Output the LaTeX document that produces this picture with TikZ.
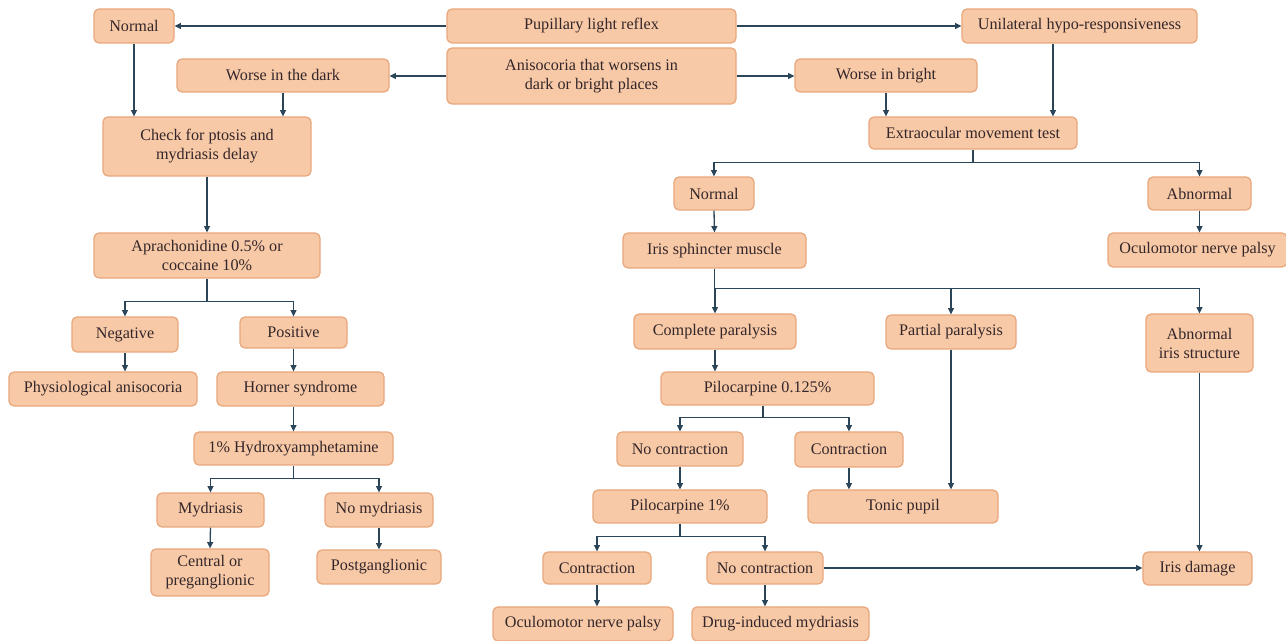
\documentclass[tikz,border=0pt]{standalone}
\usepackage{fontspec}
\setmainfont{Liberation Serif}
\usetikzlibrary{arrows.meta,calc}

\definecolor{boxfill}{HTML}{F8C9A6}
\definecolor{boxedge}{HTML}{E8A77C}
\definecolor{linkcol}{HTML}{2C4659}
\definecolor{textcol}{HTML}{33262A}

\begin{document}
\begin{tikzpicture}[x=0.02cm, y=-0.02cm,
	box/.style={draw=boxedge, fill=boxfill, line width=0.7pt, rounded corners=2.8pt,
		inner sep=0pt, align=center, text=textcol,
		font=\rmfamily\fontsize{9.2}{10.8}\selectfont},
	arr/.style={draw=linkcol, line width=0.75pt, -{Triangle[length=3.6pt,width=3.4pt]}},
	link/.style={draw=linkcol, line width=0.75pt}]
\useasboundingbox (0,0) rectangle (1286,641);

\foreach \nm/\cx/\cy/\w/\h/\txt in {
	nA/134/26/80/34/Normal,
	plr/591.5/26/289/34/Pupillary light reflex,
	uni/1079.5/26/235/34/Unilateral hypo-responsiveness,
	aniso/591.5/76/289/56/Anisocoria that worsens in\\dark or bright places,
	dark/283/75.5/212/33/Worse in the dark,
	bright/886/75.5/182/33/Worse in bright,
	ptosis/207/146.5/208/59/Check for ptosis and\\mydriasis delay,
	eom/973/133/208/32/Extraocular movement test,
	nB/714/193.5/80/33/Normal,
	abn/1199.5/193.5/103/33/Abnormal,
	onpA/1197.5/250/179/34/Oculomotor nerve palsy,
	iris/714.5/250.5/183/35/Iris sphincter muscle,
	apra/207/255.5/226/45/Aprachonidine 0.5\% or\\coccaine 10\%,
	comp/715/331.5/162/35/Complete paralysis,
	part/951/332/130/34/Partial paralysis,
	abis/1199.5/343/107/58/Abnormal\\iris structure,
	neg/125/334.5/106/35/Negative,
	pos/293.5/332.5/107/31/Positive,
	phys/103/389/188/34/Physiological anisocoria,
	horn/300.5/389/167/34/Horner syndrome,
	pilA/767.5/388.5/213/33/Pilocarpine 0.125\%,
	hydr/293.5/448.5/199/33/1\% Hydroxyamphetamine,
	ncA/680/449/126/34/No contraction,
	conA/849/449.5/108/35/Contraction,
	pilB/680/506.5/174/33/Pilocarpine 1\%,
	tonic/903/506.5/190/33/Tonic pupil,
	myd/210.5/510/107/34/Mydriasis,
	nomyd/379/510/108/34/No mydriasis,
	cent/210/572.5/118/47/Central or\\preganglionic,
	post/379/567/124/34/Postganglionic,
	conB/597/568/108/32/Contraction,
	ncB/765/568/116/32/No contraction,
	irisd/1197.5/568.5/109/33/Iris damage,
	onpB/583/624/180/34/Oculomotor nerve palsy,
	drug/780.5/624/177/34/Drug-induced mydriasis}
{
	\node[box, minimum width=\w*0.02cm, minimum height=\h*0.02cm] (\nm) at (\cx,\cy) {\txt};
}

\draw[arr] (plr.west) -- (nA.east);
\draw[arr] (plr.east) -- (uni.west);
\draw[arr] (aniso.west) -- (aniso.west -| dark.east);
\draw[arr] (aniso.east) -- (aniso.east -| bright.west);

\coordinate (unis) at ($(uni.south)+(-26.5,0)$);
\draw[arr] (nA.south) -- (nA.south |- ptosis.north);
\draw[arr] (dark.south) -- (dark.south |- ptosis.north);
\draw[arr] (bright.south) -- (bright.south |- eom.north);
\draw[arr] (unis) -- (unis |- eom.north);

\draw[arr] (ptosis.south) -- (apra.north);
\draw[link] (apra.south) -- ++(0,23) coordinate (aprab);
\foreach \dst in {neg, pos}
{
	\draw[arr] (aprab) -| (\dst.north);
}
\draw[arr] (neg.south) -- (neg.south |- phys.north);
\draw[arr] (pos.south) -- (pos.south |- horn.north);
\draw[arr] (hydr.north |- horn.south) -- (hydr.north);
\draw[link] (hydr.south) -- ++(0,13) coordinate (hydrb);
\foreach \dst in {myd, nomyd}
{
	\draw[arr] (hydrb) -| (\dst.north);
}
\draw[arr] (myd.south) -- (cent.north);
\draw[arr] (nomyd.south) -- (post.north);

\draw[link] (eom.south) -- ++(0,13) coordinate (eomb);
\foreach \dst in {nB, abn}
{
	\draw[arr] (eomb) -| (\dst.north);
}
\draw[arr] (nB.south) -- (iris.north);
\draw[arr] (abn.south) -- (abn.south |- onpA.north);

\draw[link] (iris.south) -- ++(0,20) coordinate (irisb);
\foreach \dst in {comp, part, abis}
{
	\draw[arr] (irisb) -| (\dst.north);
}
\draw[arr] (comp.south) -- (comp.south |- pilA.north);
\coordinate (pilAs) at ($(pilA.south)+(-4.5,0)$);
\draw[link] (pilAs) -- ++(0,12) coordinate (pilAb);
\foreach \dst in {ncA, conA}
{
	\draw[arr] (pilAb) -| (\dst.north);
}
\draw[arr] (ncA.south) -- (pilB.north);
\draw[arr] (conA.south) -- (conA.south |- tonic.north);
\draw[arr] (part.south) -- (part.south |- tonic.north);

\draw[link] (pilB.south) -- ++(0,13) coordinate (pilBb);
\foreach \dst in {conB, ncB}
{
	\draw[arr] (pilBb) -| (\dst.north);
}
\draw[arr] (conB.south) -- (conB.south |- onpB.north);
\draw[arr] (ncB.south) -- (ncB.south |- drug.north);
\draw[arr] (ncB.east) -- (ncB.east -| irisd.west);
\draw[arr] (abis.south) -- (abis.south |- irisd.north);
\end{tikzpicture}
\end{document}
